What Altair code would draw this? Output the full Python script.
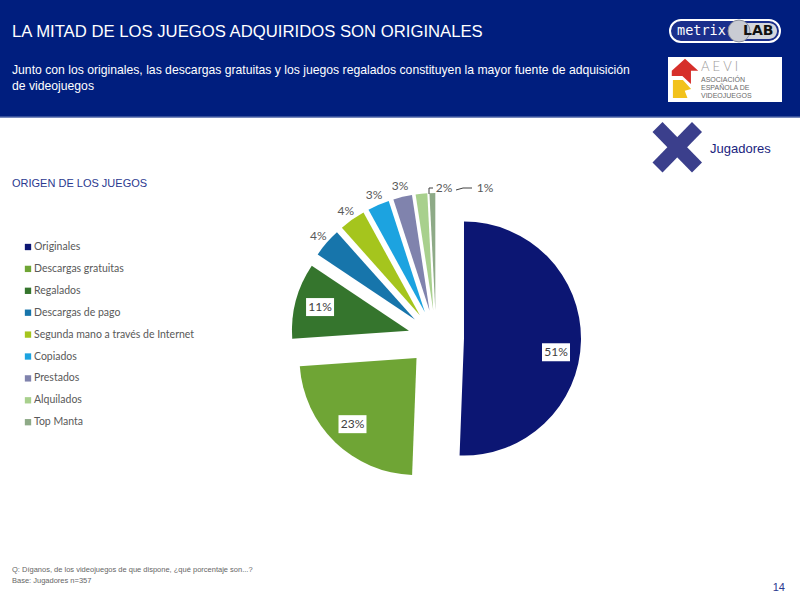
import altair as alt
import pandas as pd

# ---------------- data ----------------
categories = ["Originales", "Descargas gratuitas", "Regalados", "Descargas de pago",
              "Segunda mano a través de Internet", "Copiados", "Prestados",
              "Alquilados", "Top Manta"]
values = [50.6, 23.3, 10.5, 4.0, 3.6, 3.0, 2.6, 1.6, 0.8]
pct_labels = ["51%", "23%", "11%", "4%", "4%", "3%", "3%", "2%", "1%"]
colors = ["#0C1673", "#6FA535", "#35752D", "#1775AB", "#A5C51D",
          "#1CA3E0", "#8083AD", "#A8D08D", "#8EAA87"]

title = "LA MITAD DE LOS JUEGOS ADQUIRIDOS SON ORIGINALES"
subtitle = ["Junto con los originales, las descargas gratuitas y los juegos regalados constituyen la mayor fuente de adquisición",
            "de videojuegos"]
section = "ORIGEN DE LOS JUEGOS"
footnotes = ["Q:  Díganos, de los videojuegos de que dispone, ¿qué porcentaje son...?",
             "Base:  Jugadores n=357"]
page = "14"

# ---------------- layout ----------------
CX, CY, R, EXPLODE = 436, 338, 117, 28
INNER_LR, OUTER_LR = 92, 128
label_nudge_y = {"Originales": 12}
leader_labels = {"Alquilados": (444, 188), "Top Manta": (485, 188)}

df = pd.DataFrame({"cat": categories, "v": values, "lab": pct_labels,
                   "order": list(range(len(categories))),
                   "ndy": [label_nudge_y.get(c, 0) for c in categories]})
one = pd.DataFrame({"a": [0]})

NAVY = "#001E7E"
FONT = "Liberation Sans"
LFONT = "Lato"

cscale = alt.Scale(domain=categories, range=colors)


def geo(ch):
    return (ch.transform_joinaggregate(total="sum(v)")
              .transform_window(cum="sum(v)", sort=[alt.SortField("order")], frame=[None, 0])
              .transform_calculate(t0="2*PI*(datum.cum-datum.v)/datum.total",
                                   t1="2*PI*datum.cum/datum.total")
              .transform_calculate(mid="(datum.t0+datum.t1)/2")
              .transform_calculate(px=f"{CX}+{EXPLODE}*sin(datum.mid)",
                                   py=f"{CY}-{EXPLODE}*cos(datum.mid)"))


X = lambda f: alt.X(f, type="quantitative", scale=None, axis=None)
Y = lambda f: alt.Y(f, type="quantitative", scale=None, axis=None)

arcs = geo(alt.Chart(df)).mark_arc(radius=R).encode(
    theta=alt.Theta("t0:Q", scale=None), theta2="t1:Q",
    x=X("px"), y=Y("py"),
    color=alt.Color("cat:N", scale=cscale, legend=None),
)

lab_base = geo(alt.Chart(df)).transform_calculate(
    lr=f"datum.v > 8 ? {INNER_LR} : {OUTER_LR}"
).transform_calculate(
    lx="datum.px + datum.lr*sin(datum.mid)",
    ly="datum.py - datum.lr*cos(datum.mid) + datum.ndy"
)
inner = lab_base.transform_filter("datum.v > 8")
boxes = inner.transform_calculate(
    bx0="datum.lx-14", bx1="datum.lx+14", by0="datum.ly-9", by1="datum.ly+9"
).mark_rect(color="white").encode(x=X("bx0"), x2="bx1:Q", y=Y("by0"), y2="by1:Q")
inner_txt = inner.mark_text(font=LFONT, fontSize=12, color="#404040").encode(
    x=X("lx"), y=Y("ly"), text="lab:N")
outer_txt = lab_base.transform_filter(
    alt.FieldOneOfPredicate(field="cat", oneOf=categories[3:7])
).mark_text(font=LFONT, fontSize=12, color="#595959").encode(
    x=X("lx"), y=Y("ly"), text="lab:N")

lead_layers = []
for cat, (lx, ly) in leader_labels.items():
    lab = pct_labels[categories.index(cat)]
    lead_layers.append(alt.Chart(one).mark_text(text=lab, font=LFONT, fontSize=12, color="#595959")
                       .encode(x=alt.value(lx), y=alt.value(ly)))
lines = [
    ((429, 188), (429, 194)), ((429, 188), (433, 188)),
    ((456, 190), (463, 188)), ((463, 188), (472, 188)),
]
lead_lines = [alt.Chart(one).mark_rule(color="#404040", strokeWidth=1).encode(
    x=alt.value(a[0]), y=alt.value(a[1]), x2=alt.value(b[0]), y2=alt.value(b[1])) for a, b in lines]

# legend
leg = alt.Chart(df).transform_calculate(ly="247 + datum.order*21.9")
leg_sq = leg.mark_square(size=40, opacity=1).encode(
    x=alt.value(28), y=Y("ly"), color=alt.Color("cat:N", scale=cscale, legend=None))
leg_tx = leg.mark_text(align="left", font=LFONT, fontSize=10.5, color="#595959").encode(
    x=alt.value(34), y=Y("ly"), text="cat:N")


def txt(s, x, y, size, color, font=FONT, weight="normal", align="left"):
    return alt.Chart(one).mark_text(text=s, font=font, fontSize=size, color=color,
                                    fontWeight=weight, align=align, baseline="middle").encode(
        x=alt.value(x), y=alt.value(y))


def rect(x0, x1, y0, y1, **kw):
    return alt.Chart(one).mark_rect(**kw).encode(
        x=alt.value(x0), x2=alt.value(x1), y=alt.value(y0), y2=alt.value(y1))


header = rect(0, 800, 0, 117, color=NAVY)
header_line = alt.Chart(one).mark_rule(color="#4A62A6", strokeWidth=1.5).encode(
    x=alt.value(0), x2=alt.value(800), y=alt.value(117))

title_t = txt(title, 12, 32, 16.7, "white")
sub1 = txt(subtitle[0], 12, 70, 12.2, "white")
sub2 = txt(subtitle[1], 12, 86, 12.2, "white")

# metrixLAB logo
pill = rect(670, 780, 20, 42, fill="#1B2F8C", stroke="white", strokeWidth=2, cornerRadius=11)
lab_bg = rect(738, 777, 23, 39, fill="#D4D6DC", cornerRadius=8)
globe = alt.Chart(one).mark_point(shape="circle", filled=True, size=480, color="#C9CCD3",
                                  stroke="#8A8F9C", strokeWidth=1, opacity=1).encode(
    x=alt.value(739), y=alt.value(31))
metrix_t = txt("metrix", 677, 31, 13.5, "white", font="DejaVu Sans Mono")
lab_t = txt("LAB", 743, 31, 14, "#111111", font="DejaVu Sans", weight="bold")

# AEVI logo
aevi_box = rect(668, 782, 57, 102, color="white")
red_shape = alt.Chart(one).mark_point(
    shape="M0,-1 L1,-0.1 L0.45,-0.1 L0.45,0.9 L-0.2,0.3 L-1,0.3 L-1,-0.1 Z",
    filled=True, size=700, color="#D62F2A", opacity=1).encode(x=alt.value(685), y=alt.value(72))
yel_shape = alt.Chart(one).mark_point(
    shape="M-1,-1 L0.1,-1 L1,0 L0.3,0.2 L0.6,1 L-1,1 Z",
    filled=True, size=330, color="#F2C21B", opacity=1).encode(x=alt.value(682), y=alt.value(89))
aevi_t = txt("A  E  V  I", 701, 67, 13, "#9A9A9A", font="Lato", weight=300)
aevi_s1 = txt("ASOCIACIÓN", 701, 80, 7, "#6A6A6A")
aevi_s2 = txt("ESPAÑOLA DE", 701, 88, 7, "#6A6A6A")
aevi_s3 = txt("VIDEOJUEGOS", 701, 96, 7, "#6A6A6A")

# X icon + Jugadores
xa = alt.Chart(one).mark_rule(color="#3B3F8C", strokeWidth=14, strokeCap="butt").encode(
    x=alt.value(657.5), y=alt.value(127), x2=alt.value(697), y2=alt.value(167.5))
xb = alt.Chart(one).mark_rule(color="#3B3F8C", strokeWidth=14, strokeCap="butt").encode(
    x=alt.value(697), y=alt.value(127), x2=alt.value(657.5), y2=alt.value(167.5))
jug = txt("Jugadores", 710, 149, 13, "#1A237E")

sec = txt(section, 12, 184, 11, "#2B3990")
fn1 = txt(footnotes[0], 12, 570, 7.5, "#666666")
fn2 = txt(footnotes[1], 12, 581, 7.5, "#666666")
pg = txt(page, 785, 588, 11, "#2B3990", align="right")

chart = alt.layer(
    header, header_line, title_t, sub1, sub2,
    pill, lab_bg, globe, metrix_t, lab_t,
    aevi_box, red_shape, yel_shape, aevi_t, aevi_s1, aevi_s2, aevi_s3,
    xa, xb, jug, sec,
    arcs, boxes, inner_txt, outer_txt, *lead_layers, *lead_lines,
    leg_sq, leg_tx, fn1, fn2, pg,
).properties(
    width=800, height=600, padding=0, background="white",
    autosize=alt.AutoSizeParams(type="none"),
).configure_view(stroke=None)

chart.save("out.html", embed_options={"renderer": "svg", "actions": False})
